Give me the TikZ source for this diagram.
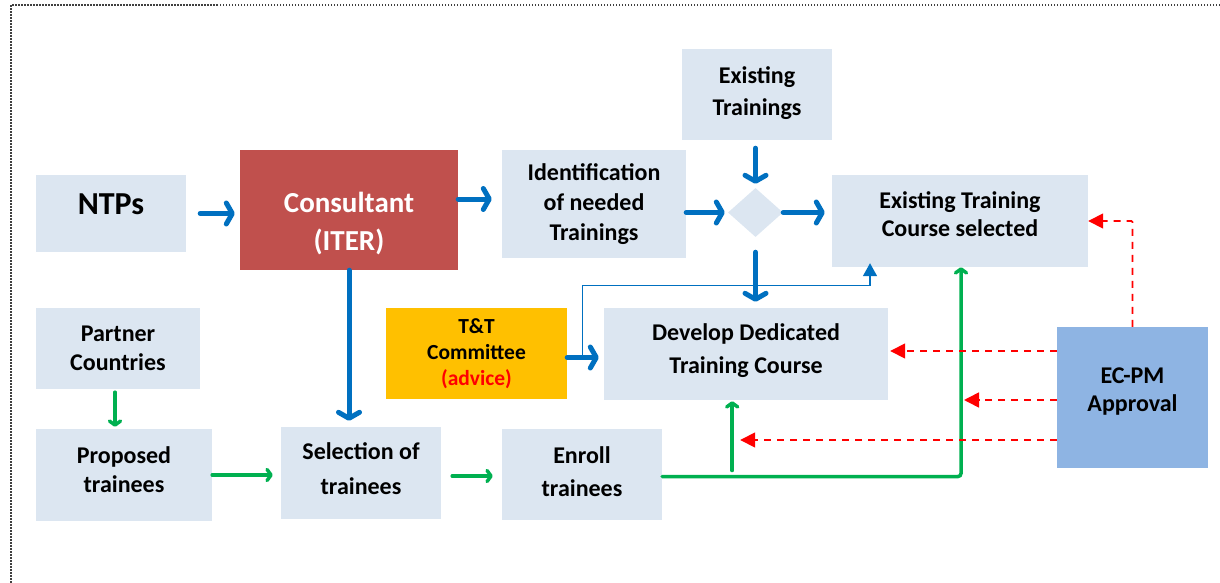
\documentclass[tikz,border=0pt]{standalone}
\usepackage{fontspec}
\setmainfont{Carlito}
\usepackage{xcolor}
\usetikzlibrary{arrows.meta, calc, shapes.geometric}

\definecolor{boxblue}{HTML}{DCE6F1}
\definecolor{consred}{HTML}{C0504D}
\definecolor{ttyellow}{HTML}{FFC000}
\definecolor{ecblue}{HTML}{8EB4E3}
\definecolor{flowblue}{HTML}{0070C0}
\definecolor{flowgreen}{HTML}{00B050}

% struts to move the text inside a box up or down
\newcommand{\padtop}[1]{\rule{0pt}{#1}}
\newcommand{\padbot}[1]{\rule[-#1]{0pt}{#1}}
\newcommand{\boxfont}[2]{\fontsize{#1}{#2}\selectfont\bfseries}

\begin{document}
\begin{tikzpicture}[x=1pt, y=-1pt,
  box/.style={fill=boxblue, inner sep=0pt, align=center, font=\boxfont{24}{30}},
  bluearrow/.style={draw=flowblue, line width=5pt, line cap=round, -{Straight Barb[round, length=6pt, width=21pt]}},
  thinblue/.style={draw=flowblue, line width=1.4pt, -{Triangle[length=13pt, width=14pt]}},
  greenarrow/.style={draw=flowgreen, line width=3.5pt, line cap=round, -{Straight Barb[round, length=4pt, width=11pt]}},
  reddash/.style={draw=red, line width=1.6pt, dash pattern=on 7pt off 6pt, -{Triangle[length=15pt, width=15pt]}},
  border/.style={draw=black!75, line width=1.5pt, dash pattern=on 1.5pt off 1.5pt}]
  \useasboundingbox (0,0) rectangle (1220,583);
  \draw[border] (1220,5) -- (11,5) -- (11,583);

  \node[box, minimum width=150pt, minimum height=77pt, font=\boxfont{32}{36}] (ntp) at (111,213.5) {NTPs\padbot{18pt}};
  \node[box, fill=consred, text=white, minimum width=218pt, minimum height=120pt, font=\boxfont{29}{38}] (cons) at (349,210) {\padtop{48pt}Consultant\\(ITER)};
  \node[box, minimum width=184pt, minimum height=108pt] (ident) at (594,204) {Identification\\of needed\\Trainings};
  \node[box, minimum width=150pt, minimum height=91pt, font=\boxfont{24}{32}] (exist) at (757,94.5) {Existing\\Trainings\padbot{6pt}};
  \node[diamond, fill=boxblue, inner sep=0pt, minimum width=55pt, minimum height=49pt] (dia) at (755.5,212.5) {};
  \node[box, minimum width=256pt, minimum height=92pt, font=\boxfont{24}{28}] (course) at (960,221) {Existing Training\\Course selected\padbot{14pt}};
  \node[box, minimum width=284pt, minimum height=92pt, font=\boxfont{24}{33}] (dev) at (746,354) {Develop Dedicated\\Training Course\padbot{10pt}};
  \node[box, fill=ttyellow, minimum width=181pt, minimum height=91pt, font=\boxfont{21.5}{26}] (tt) at (476.5,353.5) {T\&T\\Committee\\\textcolor{red}{(advice)}};
  \node[box, minimum width=164pt, minimum height=81pt, font=\boxfont{24}{29}] (partner) at (118,348.5) {Partner\\Countries};
  \node[box, minimum width=176pt, minimum height=92pt, font=\boxfont{24}{29}] (prop) at (124,475) {Proposed\\trainees\padbot{11pt}};
  \node[box, minimum width=160pt, minimum height=92pt, font=\boxfont{24}{35}] (sel) at (361,473) {Selection of\\trainees\padbot{9pt}};
  \node[box, minimum width=160pt, minimum height=91pt, font=\boxfont{24}{33}] (enr) at (582,474.5) {Enroll\\trainees\padbot{6pt}};
  \node[box, fill=ecblue, minimum width=151pt, minimum height=141pt, font=\boxfont{24}{28}] (ecpm) at (1132.5,397.5) {EC-PM\\Approval\padbot{16pt}};

  % blue flow
  \draw[bluearrow, shorten <=14pt, shorten >=5pt] (ntp.east) -- (ntp.east -| cons.west);
  \draw[bluearrow, shorten >=10pt] ([yshift=11pt]cons.east) -- ([yshift=11pt]cons.east -| ident.west);
  \draw[bluearrow, shorten >=3pt] (dia.west -| ident.east) -- (dia.west);
  \draw[bluearrow, shorten >=7pt] (dia.east) -- (dia.east -| course.west);
  \draw[bluearrow, shorten <=8pt, shorten >=4pt] (dia.north |- exist.south) -- (dia.north);
  \draw[bluearrow, shorten <=15pt, shorten >=6pt] (dia.south) -- (dia.south |- dev.north);
  \draw[bluearrow, shorten >=6pt] (cons.south) -- (cons.south |- sel.north);
  \draw[bluearrow, shorten >=5pt] ([yshift=-4pt]tt.east) -- ([yshift=-4pt]tt.east -| dev.west);
  \draw[thinblue] ([xshift=15pt, yshift=-4pt]tt.east) |- ([xshift=-90pt, yshift=-18pt]course.south) -- ([xshift=-90pt, yshift=4pt]course.south);

  % green flow
  \draw[greenarrow, shorten <=3pt, shorten >=2pt] (partner.south -| prop.north) ++(-9,0) coordinate (pc) -- (pc |- prop.north);
  \draw[greenarrow, shorten >=8pt] (prop.east) -- (prop.east -| sel.west);
  \draw[greenarrow, shorten <=11pt, shorten >=9pt] ([yshift=-3pt]sel.east) -- ([yshift=-3pt]sel.east -| enr.west);
  \coordinate (fork) at ($(enr.east)+(70,2)$);
  \draw[greenarrow, rounded corners=3pt] ([yshift=-2pt]enr.east) -| ([xshift=1pt]course.south);
  \draw[greenarrow, shorten <=6pt, shorten >=1pt] (fork) -- (fork |- dev.south);

  % approvals
  \draw[reddash, rounded corners=1pt] (ecpm.north) |- (course.east);
  \draw[reddash, shorten >=2pt] ([yshift=3pt]dev.east -| ecpm.west) -- ([yshift=3pt]dev.east);
  \draw[reddash, shorten >=4pt] ([yshift=-2.5pt]ecpm.west) -- ([yshift=-2.5pt]ecpm.west -| course.south);
  \draw[reddash, shorten >=8pt] ([yshift=-42.5pt]ecpm.west) -- ([yshift=-42.5pt]ecpm.west -| fork);
\end{tikzpicture}
\end{document}
